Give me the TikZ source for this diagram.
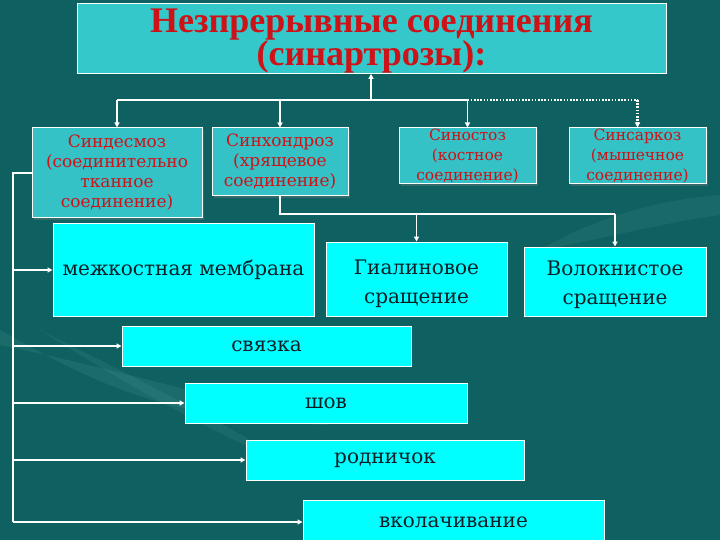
\documentclass[tikz,border=0pt]{standalone}
\usepackage{fontspec}
\setmainfont{Liberation Serif}
\newfontfamily\bodyfont{DejaVu Serif}
\usetikzlibrary{arrows.meta,positioning,shadows}

\definecolor{bgteal}{RGB}{15,96,96}
\definecolor{titlefill}{RGB}{52,200,202}
\definecolor{kindfill}{RGB}{52,194,198}
\definecolor{subfill}{RGB}{0,255,255}
\definecolor{redtext}{RGB}{205,18,24}
\definecolor{subtext}{RGB}{14,30,38}
\definecolor{swoosh}{RGB}{120,190,190}

\begin{document}
\begin{tikzpicture}[
  x=1pt, y=-1pt,
  head/.style={draw=white, fill=titlefill, line width=1pt, inner sep=0pt,
    minimum width=589pt, minimum height=67pt, align=center, text=redtext,
    font=\fontsize{36}{33}\selectfont\bfseries},
  kind/.style={draw=white, fill=kindfill, line width=1pt, inner sep=0pt,
    align=center, text=redtext, font=\bodyfont\fontsize{15.5}{20}\selectfont,
    drop shadow={shadow xshift=2pt, shadow yshift=-2pt, opacity=0.35}},
  bigkind/.style={kind, font=\bodyfont\fontsize{17}{20}\selectfont},
  sub/.style={draw=white, fill=subfill, line width=1pt, inner sep=0pt,
    align=center, text=subtext, font=\bodyfont\fontsize{20}{29}\selectfont},
  conn/.style={draw=white, line width=1.6pt},
  arr/.style={conn, -{Triangle[length=5pt,width=5pt]}},
  dotconn/.style={draw=white, line width=2.2pt, dash pattern=on 1.6pt off 1.6pt},
  dotarr/.style={dotconn, -{Triangle[length=5pt,width=5pt]}}
]
% background
\fill[bgteal] (0,0) rectangle (720,540);
\useasboundingbox (0,0) rectangle (720,540);
\fill[swoosh, opacity=0.12] (0,330) .. controls (90,380) and (160,420) .. (330,425)
  .. controls (220,400) and (120,370) .. (0,345) -- cycle;
\fill[swoosh, opacity=0.10] (40,330) .. controls (150,400) and (230,440) .. (300,470)
  .. controls (220,420) and (140,380) .. (40,330) -- cycle;
\fill[swoosh, opacity=0.10] (540,250) .. controls (600,215) and (660,200) .. (720,195)
  -- (720,215) .. controls (650,225) and (600,240) .. (540,250) -- cycle;

% title
\node[head] (title) at (371.5,38.5)
  {\rule{0pt}{29pt}Незпрерывные соединения\\(синартрозы):};

% kinds of joints
\node[bigkind, minimum width=170pt, minimum height=90pt] (sdm) at (117,173)
  {Синдесмоз\\(соединительно\\тканное\\соединение)};
\node[bigkind, minimum width=136pt, minimum height=68pt] (shd) at (280,162)
  {Синхондроз\\(хрящевое\\соединение)};
\node[kind, minimum width=137pt, minimum height=56pt] (sost) at (467.5,156)
  {Синостоз\\(костное\\соединение)};
\node[kind, minimum width=137pt, minimum height=56pt] (ssk) at (637.5,156)
  {Синсаркоз\\(мышечное\\соединение)};

% subtypes
\node[sub, minimum width=261pt, minimum height=92pt] (mem) at (183.5,270) {межкостная мембрана};
\node[sub, minimum width=181pt, minimum height=74pt] (gia) at (416.5,279)
  {\rule{0pt}{24pt}Гиалиновое\\сращение};
\node[sub, minimum width=182pt, minimum height=69pt] (vol) at (615,281.5)
  {\rule{0pt}{22pt}Волокнистое\\сращение};
\node[sub, minimum width=289pt, minimum height=40pt] (svz) at (266.5,346) {связка};
\node[sub, minimum width=282pt, minimum height=40pt] (shov) at (326,403) {шов};
\node[sub, minimum width=278pt, minimum height=40pt] (rod) at (385,460) {родничок};
\node[sub, minimum width=301pt, minimum height=44pt] (vkl) at (453.5,522) {вколачивание};

% connectors from the title
\coordinate (hub) at (371,100);
\draw[arr] (hub) -- (hub |- title.south);
\draw[conn] (hub -| sdm.north) -- (hub -| sost.north);
\draw[dotconn] (hub -| sost.north) -- (hub -| ssk.north);
\foreach \k in {sdm,shd,sost}
  \draw[arr] (hub -| \k.north) -- (\k.north);
\draw[dotarr] (hub -| ssk.north) -- (ssk.north);

% cartilage joints
\coordinate (fork) at (280,214);
\draw[conn] (shd.south) -- (fork) -- (fork -| vol.north);
\draw[arr] (fork -| gia.north) -- (gia.north);
\draw[arr] (fork -| vol.north) -- (vol.north);

% fibrous joints
\coordinate (rail) at (13,0);
\draw[conn] (sdm.west) -- (sdm.west -| rail) -- (vkl.west -| rail);
\foreach \s in {mem,svz,shov,rod,vkl}
  \draw[arr] (\s.west -| rail) -- (\s.west);
\end{tikzpicture}
\end{document}
